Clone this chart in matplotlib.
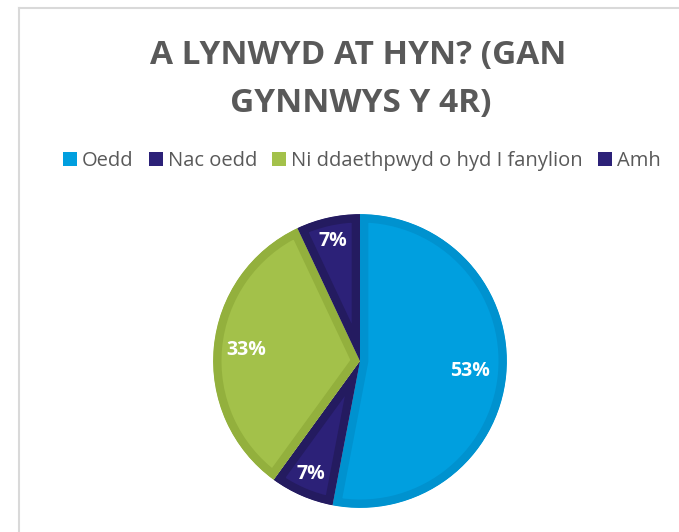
"""Pie chart: A lynwyd at hyn? (gan gynnwys y 4R)."""

import matplotlib

matplotlib.use("Agg")

import matplotlib.pyplot as plt
import numpy as np
from matplotlib.lines import Line2D
from matplotlib.patches import Patch

# Data
categories = ["Oedd", "Nac oedd", "Ni ddaethpwyd o hyd I fanylion", "Amh"]
shares = [53, 7, 33, 7]
labels = ["53%", "7%", "33%", "7%"]

# Styles
fills = ["#009fdf", "#2c2178", "#a3c14a", "#2c2178"]
edges = ["#0092cf", "#241b60", "#93b03d", "#241b60"]
label_dist = [0.75, 0.84, 0.78, 0.84]

plt.rcParams["font.family"] = ["Open Sans", "DejaVu Sans"]

fig = plt.figure(figsize=(6.79, 5.32), dpi=100)

# Light frame around the chart area (runs off the right and bottom edges)
fig.add_artist(Line2D([19 / 679, 19 / 679], [0, 1 - 8 / 532], color="#d9d9d9", lw=1.5))
fig.add_artist(Line2D([19 / 679, 1], [1 - 8 / 532, 1 - 8 / 532], color="#d9d9d9", lw=1.5))

# Title
fig.text(358 / 679, 1 - 64 / 532, "A LYNWYD AT HYN? (GAN", ha="center", va="baseline",
         fontsize=24, fontweight="bold", color="#595959")
fig.text(361 / 679, 1 - 112 / 532, "GYNNWYS Y 4R)", ha="center", va="baseline",
         fontsize=24, fontweight="bold", color="#595959")

# Pie
ax = fig.add_axes([(360 - 147) / 679, (532 - 508) / 532, 294 / 679, 294 / 532])
wedges, _ = ax.pie(shares, startangle=90, counterclock=False, radius=1.0,
                   colors=fills, wedgeprops={"linewidth": 12})
# Border drawn inside each slice only (clip the thick edge to the slice itself)
for wedge, ec in zip(wedges, edges):
    wedge.set_edgecolor(ec)
    wedge.set_joinstyle("miter")
    wedge.set_clip_on(True)
    wedge.set_clip_path(wedge)

# Percentage labels
for wedge, text, dist in zip(wedges, labels, label_dist):
    mid = np.deg2rad((wedge.theta1 + wedge.theta2) / 2)
    ax.text(dist * np.cos(mid), dist * np.sin(mid), text, ha="center", va="center",
            fontsize=14, fontweight="bold", color="white")
ax.set_xlim(-1.001, 1.001)
ax.set_ylim(-1.001, 1.001)
ax.set_aspect("equal")
ax.axis("off")

# Legend
handles = [Patch(facecolor=c, edgecolor="none") for c in fills]
fig.legend(handles, categories, loc="center", bbox_to_anchor=(362 / 679, 1 - 161 / 532),
           ncol=4, frameon=False, fontsize=14.5, handlelength=0.7, handleheight=0.7,
           handletextpad=0.25, columnspacing=0.75, labelcolor="#595959")

fig.savefig("out.png", dpi=100)
